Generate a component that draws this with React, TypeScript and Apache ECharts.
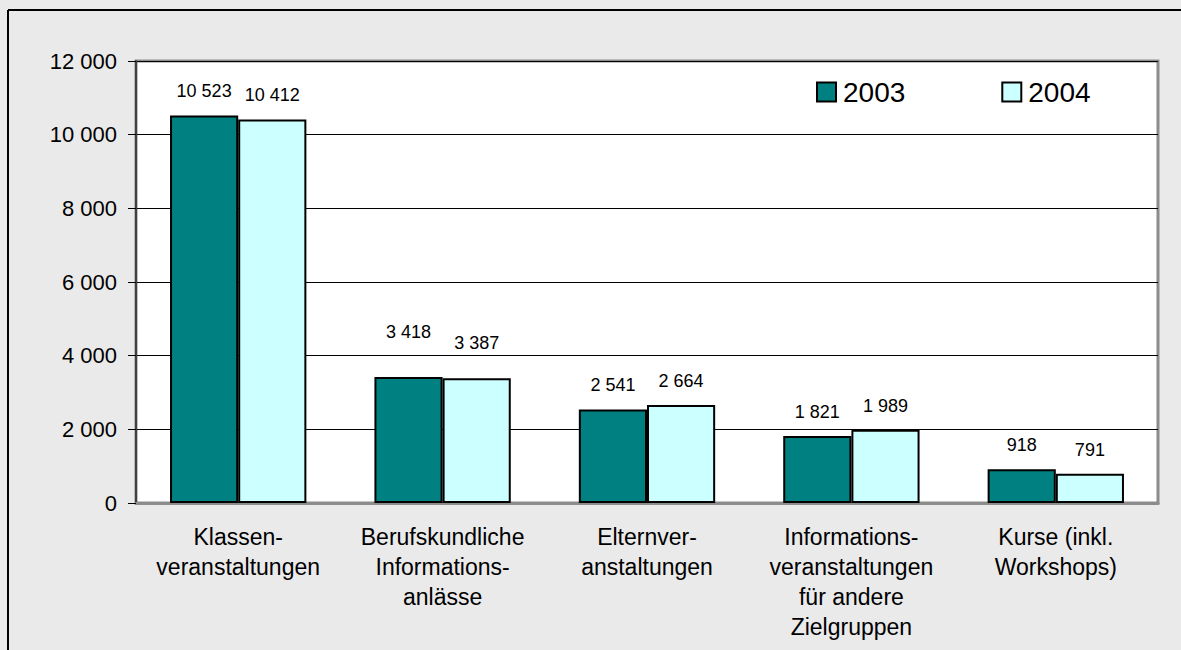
import React, { useEffect, useRef } from "react";
import * as echarts from "echarts";

const categories = [
  "Klassen-\nveranstaltungen",
  "Berufskundliche\nInformations-\nanlässe",
  "Elternver-\nanstaltungen",
  "Informations-\nveranstaltungen\nfür andere\nZielgruppen",
  "Kurse (inkl.\nWorkshops)",
];
const seriesNames = ["2003", "2004"];
const values2003 = [10523, 3418, 2541, 1821, 918];
const values2004 = [10412, 3387, 2664, 1989, 791];
const yTicks = [0, 2000, 4000, 6000, 8000, 10000, 12000];

const fmt = (v: number) => String(v).replace(/\B(?=(\d{3})+(?!\d))/g, " ");

const FONT = "'Liberation Sans', Arial, sans-serif";

export default function App() {
  const ref = useRef<HTMLDivElement>(null);
  useEffect(() => {
    if (!ref.current) return;
    document.body.style.margin = "0";
    document.documentElement.style.overflow = "hidden";
    document.body.style.overflow = "hidden";
    const chart = echarts.init(ref.current, undefined, { renderer: "svg" });
    const labelDist: Record<string, number[]> = {
      "2003": [15, 36, 15, 15, 15],
      "2004": [15, 26, 15, 15, 15],
    };
    const mk = (name: string, vals: number[], color: string) => ({
      name,
      type: "bar",
      data: vals.map((v, i) => ({
        value: v,
        label: { distance: labelDist[name][i] },
      })),
      barGap: "0%",
      barCategoryGap: "33.3%",
      itemStyle: { color, borderColor: "#000", borderWidth: 2 },
      label: {
        show: true,
        position: "top",
        formatter: (p: any) => fmt(p.value),
        fontSize: 18,
        fontFamily: FONT,
        color: "#000",
      },
    });
    chart.setOption({
      animation: false,
      backgroundColor: "#eaeaea",
      textStyle: { fontFamily: FONT },
      graphic: [
        {
          type: "line",
          shape: { x1: 8, y1: 10, x2: 1181, y2: 10 },
          style: { stroke: "#000", lineWidth: 2 },
          z: 100,
        },
        {
          type: "line",
          shape: { x1: 8, y1: 10, x2: 8, y2: 650 },
          style: { stroke: "#000", lineWidth: 2 },
          z: 100,
        },
      ],
      legend: {
        data: seriesNames,
        left: 816,
        top: 78,
        padding: 0,
        itemWidth: 19,
        itemHeight: 19,
        itemGap: 96,
        icon: "rect",
        textStyle: { fontSize: 28, color: "#000", fontFamily: FONT, padding: [0, 0, 0, 2] },
      },
      grid: {
        left: 136,
        right: 23,
        top: 61,
        bottom: 147,
        show: true,
        backgroundColor: "#fff",
        borderColor: "#8c8c8c",
        borderWidth: 3,
      },
      xAxis: {
        type: "category",
        data: categories,
        axisTick: { show: false },
        axisLine: { lineStyle: { color: "#8c8c8c", width: 3 } },
        axisLabel: {
          interval: 0,
          margin: 19,
          fontSize: 23,
          lineHeight: 30,
          color: "#000",
          fontFamily: FONT,
        },
      },
      yAxis: {
        type: "value",
        min: yTicks[0],
        max: yTicks[yTicks.length - 1],
        interval: 2000,
        axisLine: { show: true, lineStyle: { color: "#404040", width: 2 } },
        axisTick: { show: true, inside: false, length: 8, lineStyle: { color: "#000" } },
        splitLine: { show: true, lineStyle: { color: "#000", width: 1 } },
        axisLabel: {
          margin: 19,
          fontSize: 22,
          color: "#000",
          fontFamily: FONT,
          formatter: (v: number) => fmt(v),
        },
      },
      series: [mk("2003", values2003, "#008080"), mk("2004", values2004, "#ccffff")],
    });
    return () => chart.dispose();
  }, []);
  return (
    <div
      ref={ref}
      style={{ position: "fixed", left: 0, top: 0, width: 1181, height: 650 }}
    />
  );
}
